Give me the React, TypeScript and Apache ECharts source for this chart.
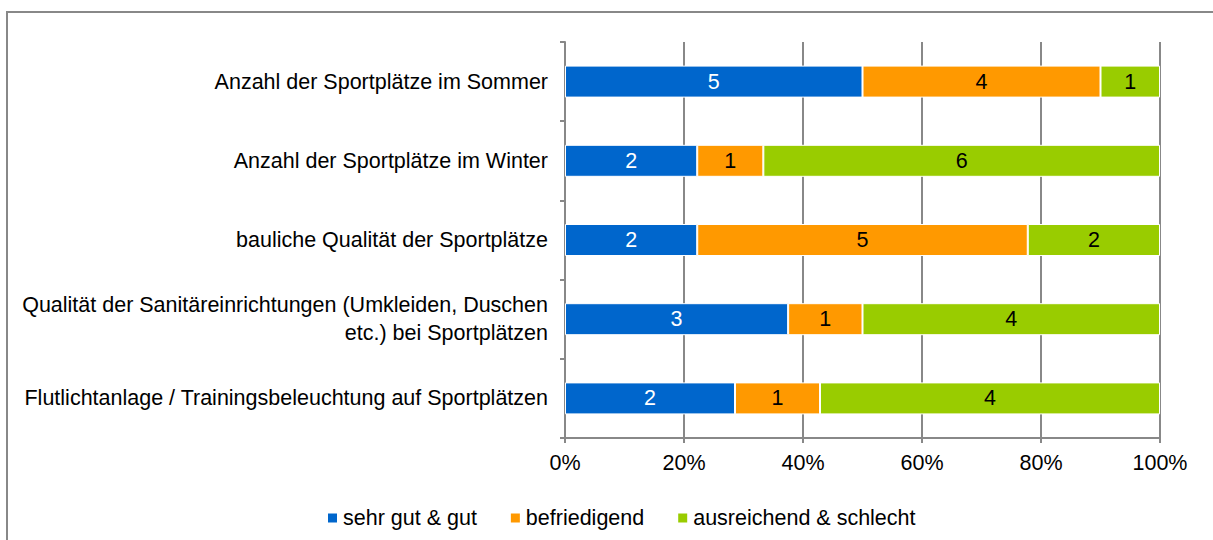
import React, { useEffect, useRef } from "react";
import * as echarts from "echarts";

const categories = [
  "Anzahl der Sportplätze im Sommer",
  "Anzahl der Sportplätze im Winter",
  "bauliche Qualität der Sportplätze",
  "Qualität der Sanitäreinrichtungen (Umkleiden, Duschen\netc.) bei Sportplätzen",
  "Flutlichtanlage / Trainingsbeleuchtung auf Sportplätzen",
];
const seriesNames = ["sehr gut & gut", "befriedigend", "ausreichend & schlecht"];
const sehrGut = [5, 2, 2, 3, 2];
const befriedigend = [4, 1, 5, 1, 1];
const ausreichend = [1, 6, 2, 4, 4];
const colors = ["#0066CC", "#FF9900", "#99CC00"];
const labelColors = ["#ffffff", "#000000", "#000000"];
const xTicks = [0, 20, 40, 60, 80, 100];

const FONT = "'Liberation Sans', Arial, sans-serif";
const FS = 21.5;

export default function App() {
  const ref = useRef<HTMLDivElement>(null);
  useEffect(() => {
    if (!ref.current) return;
    const chart = echarts.init(ref.current, undefined, { renderer: "svg" });
    const all = [sehrGut, befriedigend, ausreichend];
    const totals = categories.map((_, i) => all.reduce((s, a) => s + a[i], 0));
    const series = all.map((arr, si) => ({
      name: seriesNames[si],
      type: "bar",
      stack: "total",
      barWidth: 32,
      data: arr.map((v, i) => ({ value: (v / totals[i]) * 100, count: v })),
      itemStyle: { color: colors[si], borderColor: "#ffffff", borderWidth: 1 },
      label: {
        show: true,
        position: "inside",
        fontFamily: FONT,
        fontSize: FS,
        color: labelColors[si],
        formatter: (p: any) => String(p.data.count),
      },
    }));
    chart.setOption({
      animation: false,
      textStyle: { fontFamily: FONT },
      graphic: [
        {
          type: "rect",
          shape: { x: 7, y: 12, width: 1220, height: 540 },
          style: { fill: "none", stroke: "#888888", lineWidth: 2 },
          silent: true,
        },
      ],
      grid: { left: 565, right: 53, top: 42, bottom: 102 },
      legend: {
        left: 321,
        top: 502,
        itemWidth: 11,
        itemHeight: 11,
        itemGap: 32,
        icon: "rect",
        textStyle: { fontFamily: FONT, fontSize: FS, color: "#000" },
        data: seriesNames,
      },
      xAxis: {
        type: "value",
        min: 0,
        max: 100,
        interval: 20,
        axisLine: { show: true, lineStyle: { color: "#888888", width: 2 } },
        axisTick: { show: true, length: 5, lineStyle: { color: "#888888", width: 2 } },
        splitLine: { show: true, lineStyle: { color: "#888888", width: 2 } },
        axisLabel: {
          fontFamily: FONT,
          fontSize: FS,
          color: "#000",
          margin: 14,
          formatter: (v: number) => (xTicks.includes(v) ? v + "%" : ""),
        },
      },
      yAxis: {
        type: "category",
        inverse: true,
        data: categories,
        axisLine: { show: true, lineStyle: { color: "#888888", width: 2 } },
        axisTick: { show: true, length: 5, lineStyle: { color: "#888888", width: 2 } },
        axisLabel: {
          fontFamily: FONT,
          fontSize: FS,
          color: "#000",
          margin: 17,
          lineHeight: 28,
          align: "right",
        },
      },
      series,
    });
    return () => chart.dispose();
  }, []);
  return (
    <div
      ref={ref}
      style={{ position: "fixed", left: 0, top: 0, width: 1213, height: 540, background: "#fff" }}
    />
  );
}
